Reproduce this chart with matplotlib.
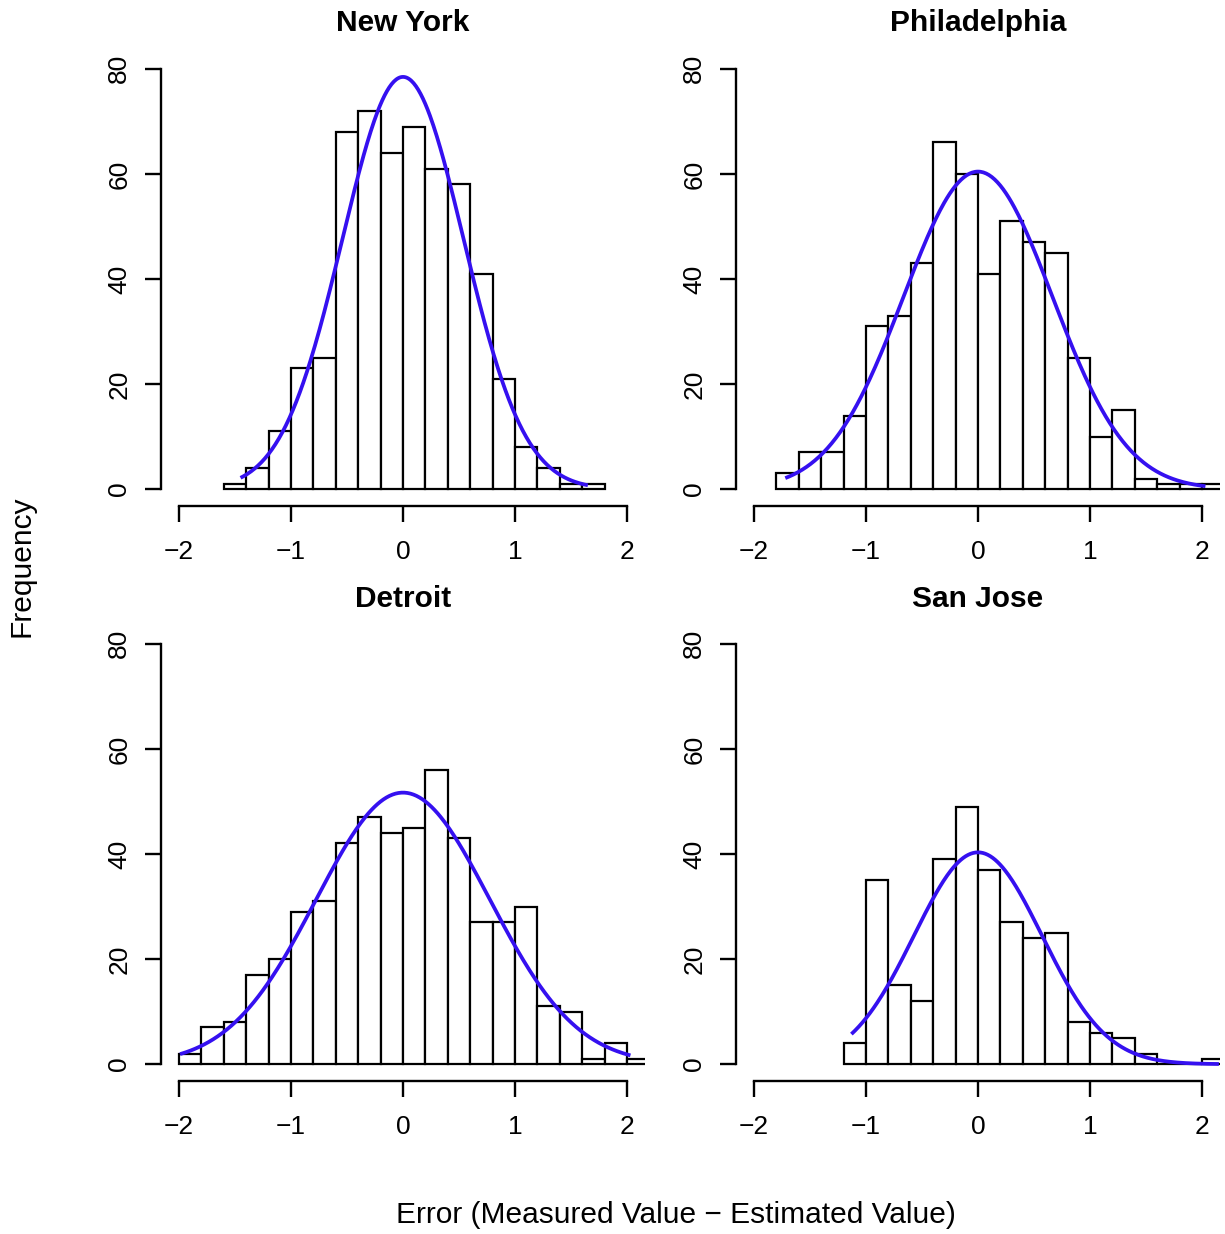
import numpy as np
import matplotlib
matplotlib.use("Agg")
import matplotlib.pyplot as plt

plt.rcParams['font.family'] = ['Liberation Sans', 'DejaVu Sans']

# ---- data ----
titles = ["New York", "Philadelphia", "Detroit", "San Jose"]
bin_width = 0.2

ny_start = -1.6
ny_counts = [1, 4, 11, 23, 25, 68, 72, 64, 69, 61, 58, 41, 21, 8, 4, 1, 1]

ph_start = -1.8
ph_counts = [3, 7, 7, 14, 31, 33, 43, 66, 60, 41, 51, 47, 45, 25, 10, 15, 2, 1, 1, 1]

de_start = -2.0
de_counts = [2, 7, 8, 17, 20, 29, 31, 42, 47, 44, 45, 56, 43, 27, 27, 30, 11, 10, 1, 4, 1]

sj_start = -1.2
sj_counts = [4, 35, 15, 12, 39, 49, 37, 27, 24, 25, 8, 6, 5, 2, 0, 0, 1]

# normal-fit overlay parameters (mean, sd) and the x-range over which each curve is drawn
fit_mean = [0.0, 0.0, 0.0, 0.0]
fit_sd = [0.541, 0.664, 0.775, 0.572]
curve_from = [-1.45, -1.72, -1.99, -1.13]
curve_to = [1.65, 2.03, 2.03, 2.15]

starts = [ny_start, ph_start, de_start, sj_start]
counts = [ny_counts, ph_counts, de_counts, sj_counts]

x_ticks = [-2, -1, 0, 1, 2]
y_ticks = [0, 20, 40, 60, 80]

# ---- figure ----
W, H = 1225, 1234
fig = plt.figure(figsize=(W / 100, H / 100), dpi=100)

def frac_box(x0, x1, ytop, ybot):
    return [x0 / W, 1 - ybot / H, (x1 - x0) / W, (ybot - ytop) / H]

boxes = [frac_box(161, 645, 52, 506), frac_box(736, 1220, 52, 506),
         frac_box(161, 645, 627, 1081), frac_box(736, 1220, 627, 1081)]

curve_color = "#3510f0"

for i in range(4):
    ax = fig.add_axes(boxes[i])
    c = np.array(counts[i], dtype=float)
    lefts = starts[i] + bin_width * np.arange(len(c))
    ax.bar(lefts, c, width=bin_width, align='edge', color='white',
           edgecolor='black', linewidth=1.6, zorder=2)
    n = c.sum()
    xs = np.linspace(curve_from[i], curve_to[i], 300)
    ys = n * bin_width * np.exp(-0.5 * ((xs - fit_mean[i]) / fit_sd[i]) ** 2) / (fit_sd[i] * np.sqrt(2 * np.pi))
    ax.plot(xs, ys, color=curve_color, linewidth=2.7, zorder=3, solid_capstyle='butt')

    ax.set_xlim(-2.16, 2.16)
    ax.set_ylim(-3.2, 83.2)
    ax.set_facecolor('none')
    for s in ['top', 'right']:
        ax.spines[s].set_visible(False)
    ax.spines['left'].set_bounds(0, 80)
    ax.spines['bottom'].set_bounds(-2, 2)
    for s in ['left', 'bottom']:
        ax.spines[s].set_linewidth(1.7)
    ax.set_xticks(x_ticks)
    ax.set_xticklabels([str(t).replace('-', '\u2212') for t in x_ticks])
    ax.set_yticks(y_ticks)
    ax.set_yticklabels([str(t) for t in y_ticks])
    ax.tick_params(axis='both', direction='out', length=11.5, width=1.7,
                   labelsize=19, colors='black')
    ax.tick_params(axis='x', pad=13)
    ax.tick_params(axis='y', pad=10)
    for lab in ax.get_yticklabels():
        lab.set_rotation(90)
        lab.set_va('center')

title_pos = [(403, 23), (978, 23), (403, 599), (978, 599)]
for t, (x, y) in zip(titles, title_pos):
    fig.text(x / W, 1 - y / H, t, ha='center', va='center', fontsize=21.5, fontweight='bold')

fig.text(22 / W, 1 - 566 / H, "Frequency", rotation=90, ha='center', va='center', fontsize=21.5)
fig.text(676 / W, 1 - 1215 / H, "Error (Measured Value \u2212 Estimated Value)",
         ha='center', va='center', fontsize=21.5)

fig.savefig("out.png", dpi=100, facecolor='white')
